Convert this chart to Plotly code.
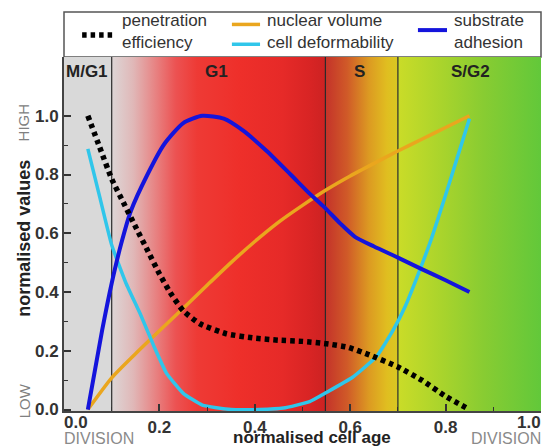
import plotly.graph_objects as go

# ---------------- data ----------------
pen_x = [0.05, 0.075, 0.10, 0.125, 0.15, 0.175, 0.20, 0.225, 0.25, 0.285, 0.34, 0.40, 0.45, 0.50, 0.55, 0.595, 0.64, 0.70, 0.75, 0.80, 0.85]
pen_y = [1.00, 0.892, 0.785, 0.703, 0.622, 0.542, 0.462, 0.392, 0.336, 0.292, 0.258, 0.243, 0.236, 0.232, 0.224, 0.212, 0.186, 0.145, 0.10, 0.045, 0.0]

nuc_x = [0.05, 0.10, 0.15, 0.20, 0.25, 0.30, 0.35, 0.40, 0.45, 0.50, 0.55, 0.60, 0.65, 0.70, 0.75, 0.80, 0.85]
nuc_y = [0.0, 0.108, 0.19, 0.268, 0.345, 0.423, 0.50, 0.572, 0.638, 0.695, 0.748, 0.795, 0.838, 0.88, 0.92, 0.96, 1.0]

def_x = [0.05, 0.075, 0.10, 0.13, 0.16, 0.19, 0.215, 0.25, 0.29, 0.35, 0.41, 0.46, 0.515, 0.55, 0.605, 0.655, 0.69, 0.715, 0.74, 0.77, 0.80, 0.825, 0.85]
def_y = [0.887, 0.723, 0.56, 0.43, 0.325, 0.21, 0.123, 0.055, 0.015, 0.0, 0.0, 0.005, 0.027, 0.058, 0.11, 0.18, 0.27, 0.35, 0.45, 0.58, 0.73, 0.86, 0.99]

adh_x = [0.05, 0.08, 0.10, 0.12, 0.14, 0.175, 0.21, 0.25, 0.29, 0.335, 0.375, 0.425, 0.475, 0.515, 0.545, 0.58, 0.61, 0.65, 0.70, 0.75, 0.80, 0.85]
adh_y = [0.0, 0.27, 0.43, 0.565, 0.675, 0.80, 0.903, 0.975, 1.0, 0.99, 0.95, 0.88, 0.80, 0.735, 0.69, 0.632, 0.588, 0.555, 0.517, 0.478, 0.44, 0.40]

phase_names = ["M/G1", "G1", "S", "S/G2"]
phase_bounds = [0.0, 0.10, 0.548, 0.70, 1.0]
phase_label_x = [0.048, 0.32, 0.62, 0.853]
phase_scales = [
    [[0, "#d9d9d9"], [1, "#d9d9d9"]],
    [[0, "#ddd6d6"], [0.1, "#e0b8b8"], [0.2, "#e78585"], [0.3, "#ec5252"], [0.4, "#ee3a35"],
     [0.6, "#ee2f2a"], [0.8, "#e62a28"], [0.93, "#d82424"], [1, "#cc2222"]],
    [[0, "#c4322a"], [0.3, "#d05a28"], [0.6, "#dc9a22"], [0.85, "#e0be20"], [1, "#d8c822"]],
    [[0, "#cadc28"], [0.3, "#aad42c"], [0.6, "#88cc32"], [1, "#62c83a"]],
]

y_ticks = [0.0, 0.2, 0.4, 0.6, 0.8, 1.0]
y_minor = [0.1, 0.3, 0.5, 0.7, 0.9]
x_ticks = [0.2, 0.4, 0.6, 0.8]
x_minor = [0.1, 0.3, 0.5, 0.7, 0.9]

YMIN, YMAX = -0.005, 1.2
FONT = "Liberation Sans, Arial, sans-serif"

fig = go.Figure()

# phase backgrounds
for i, name in enumerate(phase_names):
    a, b = phase_bounds[i], phase_bounds[i + 1]
    fig.add_trace(go.Scatter(
        x=[a, b, b, a, a], y=[YMIN, YMIN, YMAX, YMAX, YMIN],
        mode="none", fill="toself",
        fillgradient=dict(type="horizontal", colorscale=phase_scales[i]),
        hoverinfo="skip", showlegend=False))

# phase boundaries
for b in phase_bounds[1:-1]:
    fig.add_trace(go.Scatter(x=[b, b], y=[YMIN, YMAX], mode="lines",
                             line=dict(color="#2a2a2a", width=1.2),
                             hoverinfo="skip", showlegend=False))

# curves
fig.add_trace(go.Scatter(x=nuc_x, y=nuc_y, mode="lines", name="nuclear volume",
                         line=dict(color="#eaa61e", width=3.5, shape="spline", smoothing=0.6)))
fig.add_trace(go.Scatter(x=def_x, y=def_y, mode="lines", name="cell deformability",
                         line=dict(color="#30c6ea", width=3.5, shape="spline", smoothing=0.4)))
fig.add_trace(go.Scatter(x=adh_x, y=adh_y, mode="lines", name="substrate adhesion",
                         line=dict(color="#1414dc", width=4, shape="spline", smoothing=0.6)))
fig.add_trace(go.Scatter(x=pen_x, y=pen_y, mode="lines", name="penetration efficiency",
                         line=dict(color="#000000", width=5.5, dash="4.5px,4px", shape="spline", smoothing=0.5)))

annotations = []
for name, lx in zip(phase_names, phase_label_x):
    annotations.append(dict(x=lx, y=0.958, xref="x", yref="paper", text=name, showarrow=False,
                            font=dict(size=17, color="#222", weight="bold"), xanchor="center", yanchor="middle"))

annotations.append(dict(x=-0.002, y=-0.032, xref="paper", yref="paper", text="0.0", showarrow=False,
                        font=dict(size=17, color="#333", weight="bold"), xanchor="left", yanchor="middle", borderpad=0))
annotations.append(dict(x=1.002, y=-0.032, xref="paper", yref="paper", text="1.0", showarrow=False,
                        font=dict(size=17, color="#333", weight="bold"), xanchor="right", yanchor="middle", borderpad=0))
annotations.append(dict(x=-0.002, y=-0.1045, xref="paper", yref="paper", text="DIVISION", showarrow=False,
                        font=dict(size=16, color="#8a8a8a"), xanchor="left", yanchor="bottom", borderpad=0))
annotations.append(dict(x=1.002, y=-0.1045, xref="paper", yref="paper", text="DIVISION", showarrow=False,
                        font=dict(size=16, color="#8a8a8a"), xanchor="right", yanchor="bottom", borderpad=0))
annotations.append(dict(x=0.52, y=-0.1045, xref="paper", yref="paper", text="normalised cell age", showarrow=False,
                        font=dict(size=17, color="#222", weight="bold"), xanchor="center", yanchor="bottom", borderpad=0))
annotations.append(dict(x=-0.084, y=0.489, xref="paper", yref="paper", text="normalised values", showarrow=False,
                        textangle=-90, font=dict(size=18, color="#222", weight="bold"),
                        xanchor="center", yanchor="middle"))
annotations.append(dict(x=-0.084, y=0.815, xref="paper", yref="paper", text="HIGH", showarrow=False,
                        textangle=-90, font=dict(size=15, color="#808080"), xanchor="center", yanchor="middle"))
annotations.append(dict(x=-0.084, y=0.03, xref="paper", yref="paper", text="LOW", showarrow=False,
                        textangle=-90, font=dict(size=15, color="#808080"), xanchor="center", yanchor="middle"))

legend_texts = [("penetration<br>efficiency", 0.117, 1.073),
                ("nuclear volume", 0.421, 1.102),
                ("cell deformability", 0.421, 1.042),
                ("substrate<br>adhesion", 0.813, 1.073)]
for t, lx, ly in legend_texts:
    annotations.append(dict(x=lx, y=ly, xref="paper", yref="paper", text=t, showarrow=False,
                            font=dict(size=17, color="#333"), xanchor="left", yanchor="middle", align="left"))

shapes = [dict(type="rect", xref="paper", yref="paper", x0=0, x1=1, y0=1.0, y1=1.127,
               line=dict(color="#555", width=1.5), fillcolor="white", layer="below")]
legend_samples = [(0.038, 0.103, 1.062, "#000000", 5.5, "4.5px,4px"),
                  (0.352, 0.411, 1.092, "#eaa61e", 3.5, "solid"),
                  (0.352, 0.411, 1.036, "#30c6ea", 3.5, "solid"),
                  (0.742, 0.803, 1.076, "#1414dc", 4, "solid")]
for x0, x1, yy, c, w, d in legend_samples:
    shapes.append(dict(type="line", xref="paper", yref="paper", x0=x0, x1=x1, y0=yy, y1=yy,
                       line=dict(color=c, width=w, dash=d)))

fig.update_layout(
    width=549, height=448,
    margin=dict(l=64, r=8, t=57, b=37),
    paper_bgcolor="white", plot_bgcolor="white",
    showlegend=False,
    font=dict(family=FONT, size=17, color="#333"),
    annotations=annotations, shapes=shapes,
    xaxis=dict(range=[0, 1], tickvals=x_ticks, ticktext=[f"{v:.1f}" for v in x_ticks],
               ticks="inside", ticklen=7, tickwidth=1.5, tickcolor="#333",
               showline=True, linecolor="#444", linewidth=2, showgrid=False, zeroline=False,
               tickfont=dict(size=17, color="#333", weight="bold"),
               minor=dict(tickvals=x_minor, ticks="inside", ticklen=4, tickwidth=1.2, tickcolor="#333")),
    yaxis=dict(range=[YMIN, YMAX], tickvals=y_ticks, ticktext=[f"{v:.1f}" for v in y_ticks],
               ticks="inside", ticklen=7, tickwidth=1.5, tickcolor="#333",
               showline=True, linecolor="#444", linewidth=2, showgrid=False, zeroline=False,
               tickfont=dict(size=17, color="#333", weight="bold"),
               minor=dict(tickvals=y_minor, ticks="inside", ticklen=4, tickwidth=1.2, tickcolor="#333")),
)

fig.write_html("out.html")
